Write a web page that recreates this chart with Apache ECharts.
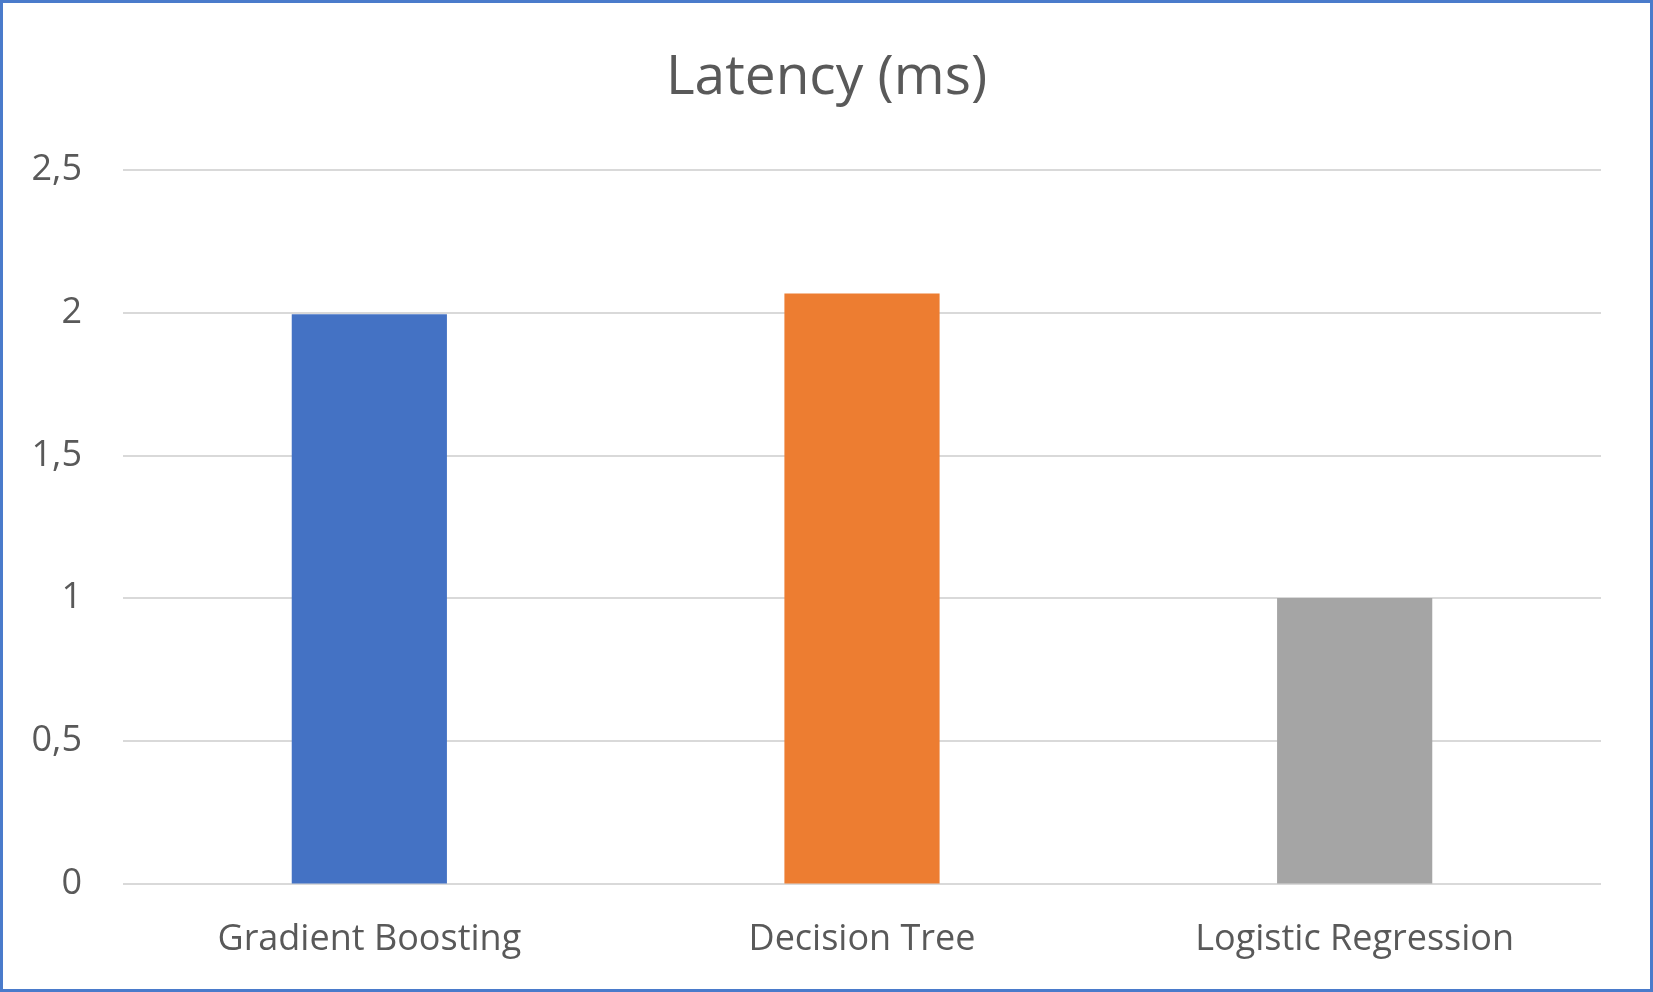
<!DOCTYPE html>
<html><head><meta charset="utf-8">
<script src="https://cdn.jsdelivr.net/npm/echarts@6/dist/echarts.min.js"></script>
<style>html,body{margin:0;padding:0;background:#fff}#c{width:1653px;height:992px}</style>
</head><body><div id="c"></div>
<script>
const categories = ["Gradient Boosting", "Decision Tree", "Logistic Regression"];
const latency = [1.995, 2.067, 1.0];
const barColors = ["#4472C4", "#ED7D31", "#A5A5A5"];
const yTicks = [0, 0.5, 1, 1.5, 2, 2.5];
const titleText = "Latency (ms)";

const chart = echarts.init(document.getElementById('c'));
const font = "'Open Sans', 'Noto Sans', sans-serif";
chart.setOption({
  animation: false,
  backgroundColor: '#fff',
  graphic: [{type:'rect', shape:{x:1.5,y:1.5,width:1650,height:989}, style:{fill:'none', stroke:'#4A7BCB', lineWidth:3}, z:100}],
  title: {text: titleText, left: 'center', top: 46, textStyle:{fontFamily: font, fontSize: 55, fontWeight: 'normal', color:'#595959'}},
  grid: {left: 123, right: 52, top: 170, bottom: 108.5, containLabel: false},
  xAxis: {type:'category', data: categories, axisLine:{show:false}, axisTick:{show:false},
    axisLabel:{fontFamily: font, fontSize: 36, color:'#595959', margin: 38}},
  yAxis: {type:'value', min: yTicks[0], max: yTicks[yTicks.length-1], interval: 0.5,
    axisLine:{show:false}, axisTick:{show:false},
    splitLine:{lineStyle:{color:'#D9D9D9', width:2}},
    axisLabel:{fontFamily: font, fontSize: 36, color:'#595959', margin: 41, padding:[5,0,0,0],
      formatter: v => String(v).replace('.', ',')}},
  series: [{type:'bar', barWidth: '31.5%',
    data: latency.map((v,i)=>({value:v, itemStyle:{color:barColors[i]}}))}]
});
</script></body></html>
